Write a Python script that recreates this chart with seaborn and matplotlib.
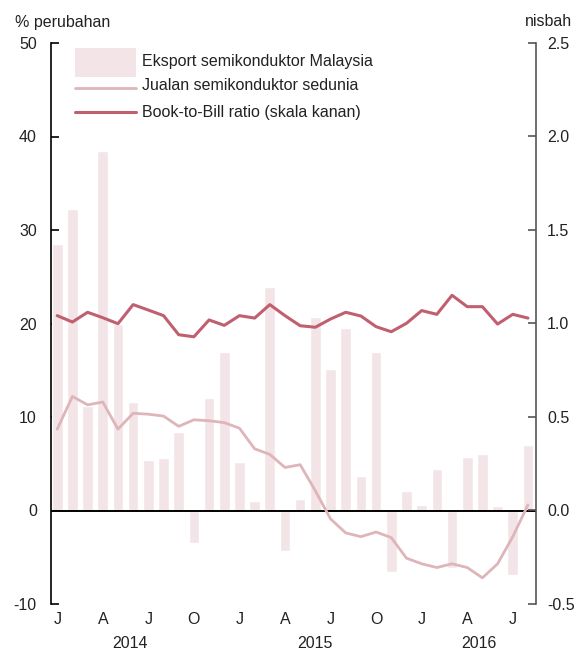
import numpy as np
import pandas as pd
import matplotlib
matplotlib.use("Agg")
import matplotlib.pyplot as plt
import seaborn as sns
from matplotlib.patches import Rectangle
from matplotlib.lines import Line2D

months = pd.date_range("2014-01-01", "2016-08-01", freq="MS")
month_letters = ["J", "A", "J", "O", "J", "A", "J", "O", "J", "A", "J"]
years = ["2014", "2015", "2016"]

export_my = [28.5, 32.2, 11.2, 38.5, 20.0, 11.6, 5.4, 5.6, 8.4, -3.5, 12.0, 17.0,
             5.2, 1.0, 23.9, -4.3, 1.2, 20.7, 15.1, 19.5, 3.7, 16.9, -6.6, 2.1,
             0.6, 4.4, -6.2, 5.7, 6.0, 0.5, -6.9, 7.0]
world_sales = [8.7, 12.2, 11.3, 11.6, 8.7, 10.4, 10.3, 10.1, 9.0, 9.7, 9.6, 9.4,
               8.8, 6.6, 6.0, 4.6, 4.9, 2.1, -0.9, -2.4, -2.8, -2.3, -2.9, -5.1,
               -5.7, -6.1, -5.7, -6.1, -7.2, -5.7, -2.8, 0.6]
book_to_bill = [1.042, 1.008, 1.060, 1.031, 0.999, 1.101, 1.072, 1.042, 0.940, 0.929,
                1.019, 0.990, 1.042, 1.029, 1.101, 1.042, 0.988, 0.980, 1.024, 1.060,
                1.040, 0.983, 0.956, 1.001, 1.069, 1.049, 1.151, 1.090, 1.090, 0.997,
                1.049, 1.029]

idx = np.arange(len(months))
df = pd.DataFrame({"i": idx, "export": export_my, "world": world_sales, "btb": book_to_bill})

bar_color = "#f2e4e7"
world_color = "#deb5b9"
btb_color = "#c0606f"
txt_color = "#222222"
fs = 11.5

sns.set_style("white")
plt.rcParams["font.family"] = ["Liberation Sans Narrow", "Liberation Sans", "DejaVu Sans"]
plt.rcParams["axes.unicode_minus"] = False

fig = plt.figure(figsize=(5.85, 6.53), dpi=100)
ax = fig.add_axes([50.7 / 585, 1 - 604 / 653, (536 - 50.7) / 585, (604 - 43) / 653])

sns.barplot(data=df, x="i", y="export", native_scale=True, width=0.7,
            color=bar_color, saturation=1, ax=ax, zorder=1)
sns.lineplot(data=df, x="i", y="world", color=world_color, linewidth=2.0, ax=ax, zorder=3)
ax.axhline(0, color="black", linewidth=1.4, zorder=2)

ax.set_ylim(-10, 50)
ax.set_xlim(-0.43, 31.53)
ax.set_yticks(np.arange(-10, 51, 10))
ax.set_xticks(np.arange(0, 31, 3))
ax.set_xticklabels(month_letters)
ax.set_xlabel("")
ax.set_ylabel("")
for s in ["top", "bottom", "right"]:
    ax.spines[s].set_visible(False)
ax.spines["left"].set_color("black")
ax.spines["left"].set_linewidth(1.2)
ax.tick_params(axis="y", direction="in", length=6, width=1.2, color="black",
               labelsize=fs, pad=10, labelcolor=txt_color)
ax.tick_params(axis="x", length=0, labelsize=fs, pad=6, labelcolor=txt_color)

ax2 = ax.twinx()
sns.lineplot(data=df, x="i", y="btb", color=btb_color, linewidth=2.2, ax=ax2, zorder=4)
ax2.set_ylim(-0.5, 2.5)
rticks = np.arange(-0.5, 2.51, 0.5)
ax2.set_yticks(rticks)
ax2.set_yticklabels([f"{v:.1f}" for v in rticks])
ax2.set_ylabel("")
for s in ["top", "bottom", "left"]:
    ax2.spines[s].set_visible(False)
ax2.spines["right"].set_color("#555555")
ax2.spines["right"].set_linewidth(1.2)
ax2.tick_params(axis="y", direction="in", length=6, width=1.2, color="#555555",
                labelsize=fs, pad=8, labelcolor=txt_color)

# year labels
for xpos, yr in zip([4.8, 17.0, 27.8], years):
    ax.text(xpos, -0.07, yr, transform=ax.get_xaxis_transform(), ha="center",
            va="center", fontsize=fs, color=txt_color)

# axis unit labels
fig.text(15 / 585, 1 - 22 / 653, "% perubahan", ha="left", va="center", fontsize=fs, color=txt_color)
fig.text(548 / 585, 1 - 22 / 653, "nisbah", ha="center", va="center", fontsize=fs, color=txt_color)

# manual legend
def axx(px):
    return (px - 50.7) / (536 - 50.7)

def axy(py):
    return (604 - py) / (604 - 43)

ax2.add_patch(Rectangle((axx(75), axy(77)), axx(136) - axx(75), axy(48) - axy(77),
                        transform=ax2.transAxes, facecolor=bar_color, edgecolor="none", zorder=5))
ax2.add_line(Line2D([axx(75), axx(136)], [axy(88), axy(88)], transform=ax2.transAxes,
                    color=world_color, linewidth=2.0, zorder=5))
ax2.add_line(Line2D([axx(75), axx(136)], [axy(112), axy(112)], transform=ax2.transAxes,
                    color=btb_color, linewidth=2.2, zorder=5))
ax2.text(axx(142), axy(62), "Eksport semikonduktor Malaysia", transform=ax2.transAxes,
         ha="left", va="center", fontsize=fs, color=txt_color)
ax2.text(axx(142), axy(86), "Jualan semikonduktor sedunia", transform=ax2.transAxes,
         ha="left", va="center", fontsize=fs, color=txt_color)
ax2.text(axx(142), axy(113), "Book-to-Bill ratio (skala kanan)", transform=ax2.transAxes,
         ha="left", va="center", fontsize=fs, color=txt_color)

fig.savefig("out.png", dpi=100)
